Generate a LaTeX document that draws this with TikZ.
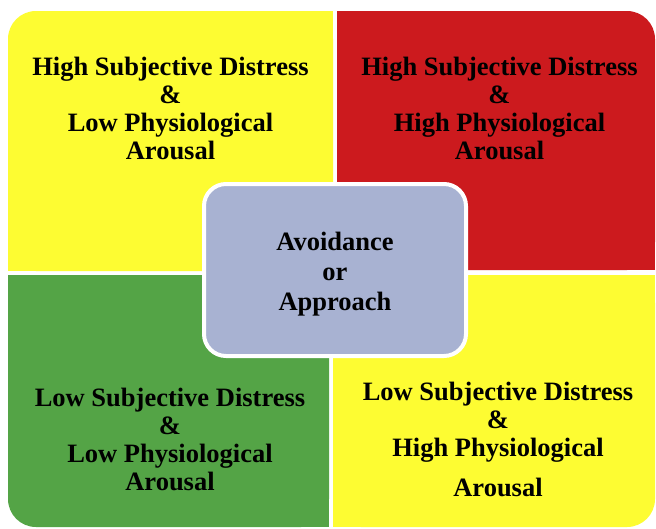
\documentclass[tikz,border=0pt]{standalone}
\usepackage{fontspec}
\setmainfont{Liberation Serif}
\definecolor{quadyellow}{RGB}{253,252,50}
\definecolor{quadred}{RGB}{204,26,30}
\definecolor{quadgreen}{RGB}{84,164,70}
\definecolor{hubblue}{RGB}{168,178,210}
\tikzset{
  label text/.style={align=center, inner sep=0pt, text=black,
    font=\fontsize{26.5}{28}\selectfont\bfseries},
  hub/.style={draw=white, line width=4pt, fill=hubblue, rounded corners=22pt,
    minimum width=262pt, minimum height=172pt},
  hub text/.style={align=center, inner sep=0pt, text=black,
    font=\fontsize{26.5}{30}\selectfont\bfseries}
}
\begin{document}
\begin{tikzpicture}[x=1pt,y=-1pt]
\useasboundingbox (0,0) rectangle (656,528);
\fill[white] (0,0) rectangle (656,528);
% top-left quadrant: only its outer corner is rounded
\fill[quadyellow, rounded corners=28pt] (8,11) rectangle (333,271);
\fill[quadyellow] (60,11) rectangle (333,271);
\fill[quadyellow] (8,60) rectangle (333,271);
% top-right quadrant
\fill[quadred, rounded corners=28pt] (337,11) rectangle (655,270);
\fill[quadred] (337,11) rectangle (600,270);
\fill[quadred] (337,60) rectangle (655,270);
% bottom-left quadrant
\fill[quadgreen, rounded corners=28pt] (8,275) rectangle (329,527);
\fill[quadgreen] (60,275) rectangle (329,527);
\fill[quadgreen] (8,275) rectangle (329,470);
% bottom-right quadrant
\fill[quadyellow, rounded corners=28pt] (333,275) rectangle (655,527);
\fill[quadyellow] (333,275) rectangle (600,527);
\fill[quadyellow] (333,275) rectangle (655,470);

\node[label text] (hsld) at (170.5,108) {High Subjective Distress\\ \&\\ Low Physiological\\ Arousal};
\node[label text] (hshd) at (499.5,108) {High Subjective Distress\\ \&\\ High Physiological\\ Arousal};
\node[label text] (lsld) at (170,439) {Low Subjective Distress\\ \&\\ Low Physiological\\ Arousal};
\node[label text] (lshd) at (498,439) {Low Subjective Distress\\ \&\\ High Physiological\\[12pt] Arousal};

% central box and its label
\node[hub] (center) at (335,270) {};
\node[hub text] (centertext) at (335,274) {Avoidance\\ or\\ Approach};
\end{tikzpicture}
\end{document}
